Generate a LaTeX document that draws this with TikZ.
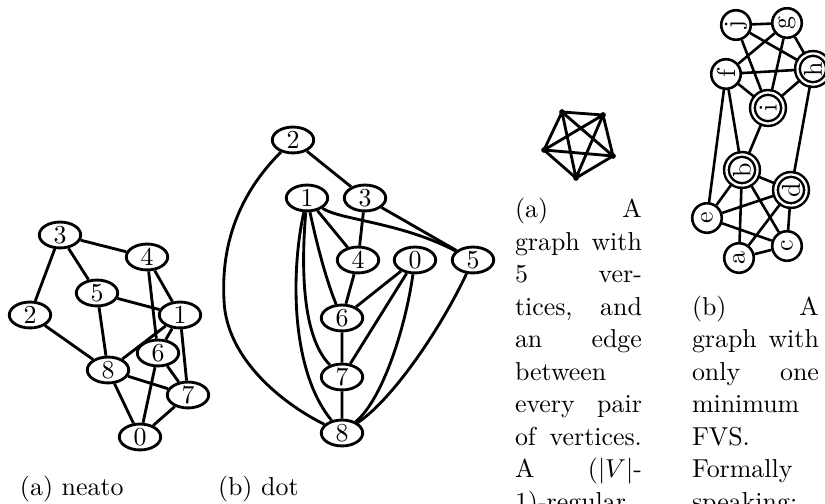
\documentclass[tikz,border=0pt]{standalone}
\usetikzlibrary{shapes.geometric}
\newcommand\jline[1]{\makebox[49pt][s]{#1}}
\newcommand\lline[1]{\makebox[49pt][l]{#1}}
\begin{document}
\begin{tikzpicture}[x=0.3861pt,y=-0.3861pt,
 ell/.style={ellipse,draw,line width=1.1pt,minimum width=16pt,minimum height=10pt,inner sep=0pt},
 cedge/.style={line width=1.1pt},
 vdot/.style={circle,fill,inner sep=0pt,minimum size=2.2pt},
 kedge/.style={line width=1.1pt},
 vtx/.style={circle,draw,line width=1pt,minimum size=11.4pt,inner sep=0pt,rotate=90},
 fvs/.style={circle,draw,line width=0.95pt,double,double distance=0.9pt,minimum size=12pt,inner sep=0pt,rotate=90},
 gedge/.style={line width=1pt},
 capline/.style={anchor=base west,inner sep=0pt,outer sep=0pt},
]
\useasboundingbox (0,0) rectangle (825,504);

% ---------- (a) neato ----------
\node[ell] (a3) at (60,235) {3};
\node[ell] (a4) at (147,257) {4};
\node[ell] (a5) at (97,293) {5};
\node[ell] (a2) at (30,315) {2};
\node[ell] (a1) at (180,315) {1};
\node[ell] (a6) at (158,353) {6};
\node[ell] (a8) at (108,370) {8};
\node[ell] (a7) at (188,395) {7};
\node[ell] (a0) at (140,437) {0};
\draw[cedge] (a3)--(a4) (a3)--(a2) (a3)--(a5) (a5)--(a1) (a5)--(a8) (a2)--(a8)
  (a4)--(a1) (a4)--(a6) (a1)--(a8) (a1)--(a6) (a1)--(a7) (a6)--(a0) (a6)--(a7)
  (a8)--(a7) (a8)--(a0) (a7)--(a0);
\node[capline] (capa) at (20,496) {(a) neato};

% ---------- (b) dot ----------
\node[ell] (b2) at (293,140) {2};
\node[ell] (b1) at (307,198) {1};
\node[ell] (b3) at (365,198) {3};
\node[ell] (b4) at (358,260) {4};
\node[ell] (b0) at (415,260) {0};
\node[ell] (b5) at (473,260) {5};
\node[ell] (b6) at (342,318) {6};
\node[ell] (b7) at (342,377) {7};
\node[ell] (b8) at (342,433) {8};
\draw[cedge] (b2)--(b3) (b3)--(b4) (b3)--(b5) (b1)--(b4) (b4)--(b6) (b0)--(b6)
  (b0)--(b7) (b6)--(b7) (b7)--(b8);
\draw[cedge] (b2) .. controls (228,205) and (222,262) .. (224,300)
  .. controls (226,360) and (285,405) .. (b8);
\draw[cedge] (b1) .. controls (291,270) and (290,370) .. (b8);
\draw[cedge] (b1) .. controls (300,280) and (305,340) .. (b7);
\draw[cedge] (b1) .. controls (318,250) and (328,285) .. (b6);
\draw[cedge] (b1) .. controls (340,220) and (400,222) .. (b5);
\draw[cedge] (b0) .. controls (405,330) and (382,400) .. (b8);
\draw[cedge] (b5) .. controls (440,330) and (392,400) .. (b8);
\node[capline] (capb) at (218,496) {(b) dot};

% ---------- K5 ----------
\node[vdot] (k1) at (562,112) {};
\node[vdot] (k2) at (603,115) {};
\node[vdot] (k3) at (613,156) {};
\node[vdot] (k4) at (576,178) {};
\node[vdot] (k5) at (544,150) {};
\draw[kedge] (k1.center)--(k2.center) (k1.center)--(k3.center) (k1.center)--(k4.center)
  (k1.center)--(k5.center) (k2.center)--(k3.center) (k2.center)--(k4.center)
  (k2.center)--(k5.center) (k3.center)--(k4.center) (k3.center)--(k5.center)
  (k4.center)--(k5.center);

\node[capline] (ka1) at (515,218) {\jline{(a) A}};
\node[capline] (ka2) at (515,250.5) {\jline{graph with}};
\node[capline] (ka3) at (515,283) {\jline{5 ver-}};
\node[capline] (ka4) at (515,315.5) {\jline{tices, and}};
\node[capline] (ka5) at (515,348) {\jline{an edge}};
\node[capline] (ka6) at (515,380.5) {\lline{between}};
\node[capline] (ka7) at (515,413) {\jline{every pair}};
\node[capline] (ka8) at (515,445.5) {\jline{of vertices.}};
\node[capline] (ka9) at (515,478) {\jline{A ($|V|$-}};
\node[capline] (ka10) at (515,510.5) {\lline{1)-regular}};

% ---------- FVS graph ----------
\node[vtx] (j) at (736,25) {j};
\node[vtx] (g) at (787,23) {g};
\node[vtx] (f) at (726,74) {f};
\node[fvs] (h) at (813,69) {h};
\node[fvs] (i) at (768,108) {i};
\node[fvs] (b) at (742,170) {b};
\node[fvs] (d) at (791,190) {d};
\node[vtx] (e) at (707,218) {e};
\node[vtx] (c) at (787,246) {c};
\node[vtx] (a) at (739,258) {a};
\draw[gedge] (j)--(g) (j)--(h) (j)--(i) (g)--(f) (g)--(i) (g)--(h) (f)--(h) (f)--(i)
  (i)--(h) (f)--(e) (f)--(b) (h)--(d) (i)--(b) (b)--(e) (b)--(d) (b)--(a) (b)--(c)
  (e)--(d) (e)--(c) (d)--(a) (d)--(c) (a)--(c);

\node[capline] (kb1) at (692,315.5) {\jline{(b) A}};
\node[capline] (kb2) at (692,348) {\jline{graph with}};
\node[capline] (kb3) at (692,380.5) {\jline{only one}};
\node[capline] (kb4) at (692,413) {\lline{minimum}};
\node[capline] (kb5) at (692,445.5) {\lline{FVS.}};
\node[capline] (kb6) at (692,478) {\lline{Formally}};
\node[capline] (kb7) at (692,510.5) {\lline{speaking:}};
\end{tikzpicture}
\end{document}
